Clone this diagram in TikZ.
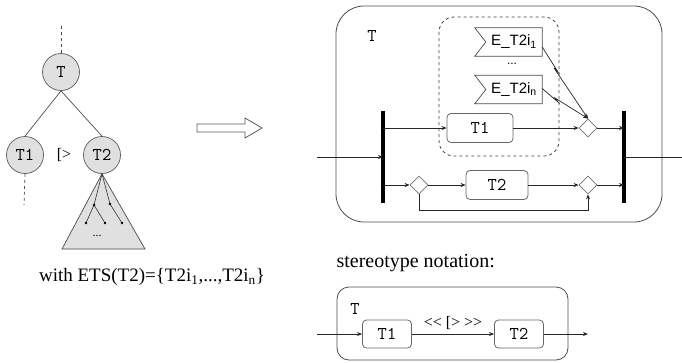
\documentclass[tikz,border=0pt]{standalone}
\usepackage{fontspec}
\newfontfamily\serf{Liberation Serif}
\newfontfamily\sanf{Liberation Sans}
\usetikzlibrary{arrows.meta,shapes.geometric}
\tikzset{
  tnode/.style={circle,draw=black!65,fill=black!12,line width=0.7pt,minimum size=37pt,inner sep=0pt,font=\fontsize{18}{20}\selectfont\ttfamily},
  task/.style={rectangle,rounded corners=4pt,draw=black!60,line width=0.8pt,minimum height=29pt,inner sep=0pt,font=\fontsize{18}{20}\selectfont\ttfamily},
  choice/.style={diamond,aspect=1,draw=black!55,line width=0.8pt,minimum size=18pt,inner sep=0pt},
  evt/.style={minimum width=56pt,minimum height=28pt,inner sep=0pt,font=\fontsize{15}{17}\selectfont\sanf},
  conn/.style={line width=0.7pt,draw=black!85},
  flow/.style={conn,-{Stealth[length=5pt,width=4pt]}},
  bar/.style={line width=3.2pt,draw=black},
}
\newcommand{\evtflag}[1]{%
  \draw[line width=0.7pt,draw=black!70] ([xshift=-11pt]#1.north west) -- (#1.north east)
    -- (#1.south east) -- ([xshift=-11pt]#1.south west) -- (#1.west) -- cycle;}
\begin{document}
\begin{tikzpicture}[x=1pt,y=-1pt]
\useasboundingbox (0,0) rectangle (682,362);
% tree
\coordinate (rootUp) at (61,26);
\coordinate (t1Down) at (24,205);
\node[tnode] (T)  at ( 61, 72) {T};
\node[tnode] (t1) at ( 25,155) {T1};
\node[tnode] (t2) at (102,155) {T2};
\node[font=\fontsize{16}{18}\selectfont\serf] (dis) at (64,155) {[>};
\draw[conn,dashed,draw=black!70] (rootUp) -- (T.north);
\draw[conn,dashed,draw=black!70] (t1.south) -- (t1Down);
\draw[conn,draw=black!70] (T.south) -- (t1.north);
\draw[conn,draw=black!70] (T.south) -- (t2.north);
% subtree of T2
\coordinate (triL) at ( 62,249);
\coordinate (triR) at (145,249);
\coordinate (sa) at ( 94,205);
\coordinate (sb) at ( 86,223);
\coordinate (sc) at (105,223);
\coordinate (sd) at (110,204);
\coordinate (se) at (122,223);
\draw[line width=0.7pt,draw=black!70,fill=black!12] (t2.south) -- (triL) -- (triR) -- cycle;
\draw[line width=0.6pt,draw=black!80] (t2.south) -- (sa) -- (sb);
\draw[line width=0.6pt,draw=black!80] (sa) -- (sc);
\draw[line width=0.6pt,draw=black!80] (t2.south) -- (sd) -- (se);
\foreach \p in {sa,sb,sc,sd,se}
  \fill[black] (\p) circle (1.3pt);
\node[font=\fontsize{12}{14}\selectfont\serf] (dots) at (97,236) {...};
\node[font=\fontsize{19}{22}\selectfont\serf] (ets) at (152,277)
  {with ETS(T2)=\{T2i\textsubscript{1},...,T2i\textsubscript{n}\}};
% transformation arrow
\draw[line width=0.8pt,draw=black!65,fill=white] (197,124) -- (245,124) -- (245,118) -- (262,128)
  -- (245,138) -- (245,132) -- (197,132) -- cycle;
% activity diagram
\draw[line width=0.8pt,draw=black!70,rounded corners=28pt] (336,6) rectangle (662,222);
\node[font=\fontsize{18}{20}\selectfont\ttfamily] (lblT) at (372,36) {T};
\draw[line width=0.8pt,draw=black!75,dashed,rounded corners=15pt] (439,17) rectangle (559,156);
\coordinate (inL)   at (317,157);
\coordinate (outR)  at (682,157);
\coordinate (forkA) at (383,111);
\coordinate (forkZ) at (383,203);
\coordinate (forkT) at (383,128);
\coordinate (forkM) at (383,157);
\coordinate (forkB) at (383,185);
\coordinate (joinA) at (624,111);
\coordinate (joinZ) at (624,203);
\coordinate (joinT) at (624,128);
\coordinate (joinM) at (624,157);
\coordinate (joinB) at (624,185);
\coordinate (byp)   at (419,210);
\node[task,minimum width=66pt] (a1) at (480,128) {T1};
\node[task,minimum width=62pt] (a2) at (497,185) {T2};
\node[choice] (dT) at (588,128) {};
\node[choice] (dB) at (588,185) {};
\node[choice] (dS) at (419,185) {};
\node[evt] (e1) at (514,42) {E\_T2i\textsubscript{1}};
\node[evt] (e2) at (514,89.5) {E\_T2i\textsubscript{n}};
\evtflag{e1}
\evtflag{e2}
\node[font=\fontsize{12}{14}\selectfont\sanf] (edots) at (512,64) {...};
\draw[bar] (forkA) -- (forkZ);
\draw[bar] (joinA) -- (joinZ);
\draw[flow] (inL) -- (forkM);
\draw[conn] (joinM) -- (outR);
\draw[flow] (forkT) -- (a1.west);
\draw[flow] (a1.east) -- (dT.west);
\draw[flow] (dT.east) -- (joinT);
\draw[flow] (forkB) -- (dS.west);
\draw[flow] (dS.east) -- (a2.west);
\draw[flow] (a2.east) -- (dB.west);
\draw[flow] (dB.east) -- (joinB);
\draw[flow] (dS.south) -- (byp) -| (dB.south);
% interrupts
\coordinate (z1a) at (558,72);
\coordinate (z1b) at (554,68);
\coordinate (z2a) at (558,102);
\coordinate (z2b) at (555,98);
\draw[flow] ([yshift=-5pt]e1.east) -- (z1a) -- (z1b) -- (dT.north);
\draw[flow] ([yshift=1pt]e2.east) -- (z2a) -- (z2b) -- (dT.north);
% stereotype notation
\node[anchor=west,font=\fontsize{20}{23}\selectfont\serf] (stt) at (333,263) {stereotype notation:};
\draw[line width=0.8pt,draw=black!70,rounded corners=12pt] (337,287) rectangle (568,360);
\node[font=\fontsize{18}{20}\selectfont\ttfamily] (sT) at (355,309) {T};
\coordinate (sIn)  at (317,334);
\coordinate (sOut) at (588,334);
\node[task,minimum width=49pt,minimum height=28pt] (s1) at (387,334) {T1};
\node[task,minimum width=49pt,minimum height=28pt] (s2) at (519,334) {T2};
\draw[flow] (sIn) -- (s1.west);
\draw[flow] (s1.east) -- node[above=1pt,font=\fontsize{16}{18}\selectfont\serf] {<< [> >>} (s2.west);
\draw[flow] (s2.east) -- (sOut);
\end{tikzpicture}
\end{document}
